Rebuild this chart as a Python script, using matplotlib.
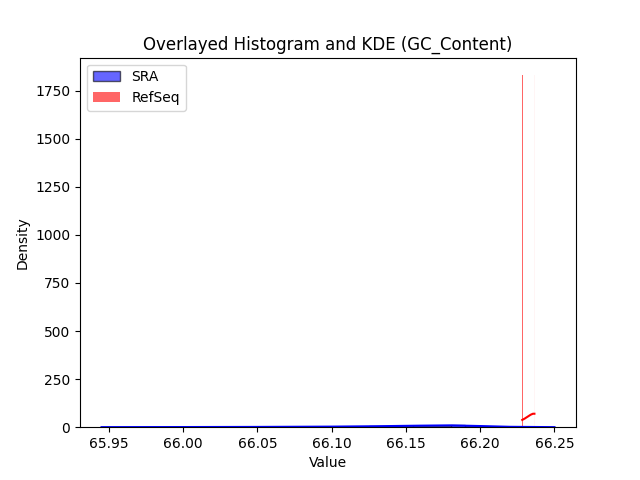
import matplotlib
matplotlib.use("Agg")
import matplotlib.pyplot as plt
import numpy as np

sra_edges = [65.945, 65.975, 66.005, 66.035, 66.065, 66.095, 66.125, 66.155, 66.18, 66.19, 66.2, 66.225, 66.25]
sra_density = [0.3, 0.5, 0.8, 1.2, 1.8, 3.0, 5.0, 7.0, 12.0, 6.0, 2.0, 0.5]
sra_kde_x = [65.945, 66.0, 66.05, 66.1, 66.13, 66.16, 66.18, 66.2, 66.22, 66.25]
sra_kde_y = [0.3, 0.8, 1.5, 3.0, 5.0, 8.0, 9.5, 6.0, 2.0, 0.3]

ref_left = [66.2283, 66.2365]
ref_height = [1830, 1830]
ref_alpha = [0.6, 0.04]
ref_width = 0.00055
ref_kde_x = [66.2283, 66.230, 66.232, 66.234, 66.2355, 66.2365]
ref_kde_y = [38, 45, 55, 65, 70, 70]

fig, ax = plt.subplots(figsize=(6.4, 4.8), dpi=100)
w = np.diff(sra_edges)
ax.bar(sra_edges[:-1], sra_density, width=w, align="edge", color="blue", alpha=0.6,
       edgecolor="black", label="SRA")
for l, h, a in zip(ref_left, ref_height, ref_alpha):
    ax.bar(l, h, width=ref_width, align="edge", color="red", alpha=a, linewidth=0,
           label="RefSeq" if a > 0.5 else None)
ax.plot(sra_kde_x, sra_kde_y, color="blue", lw=1.5)
ax.plot(ref_kde_x, ref_kde_y, color="red", lw=1.5)
ax.set_xlim(65.9305, 66.2645)
ax.set_ylim(0, 1922)
ax.set_xticks([65.95, 66.0, 66.05, 66.1, 66.15, 66.2, 66.25])
ax.set_title("Overlayed Histogram and KDE (GC_Content)")
ax.set_xlabel("Value")
ax.set_ylabel("Density")
ax.legend(loc="upper left")
fig.savefig("out.png")
